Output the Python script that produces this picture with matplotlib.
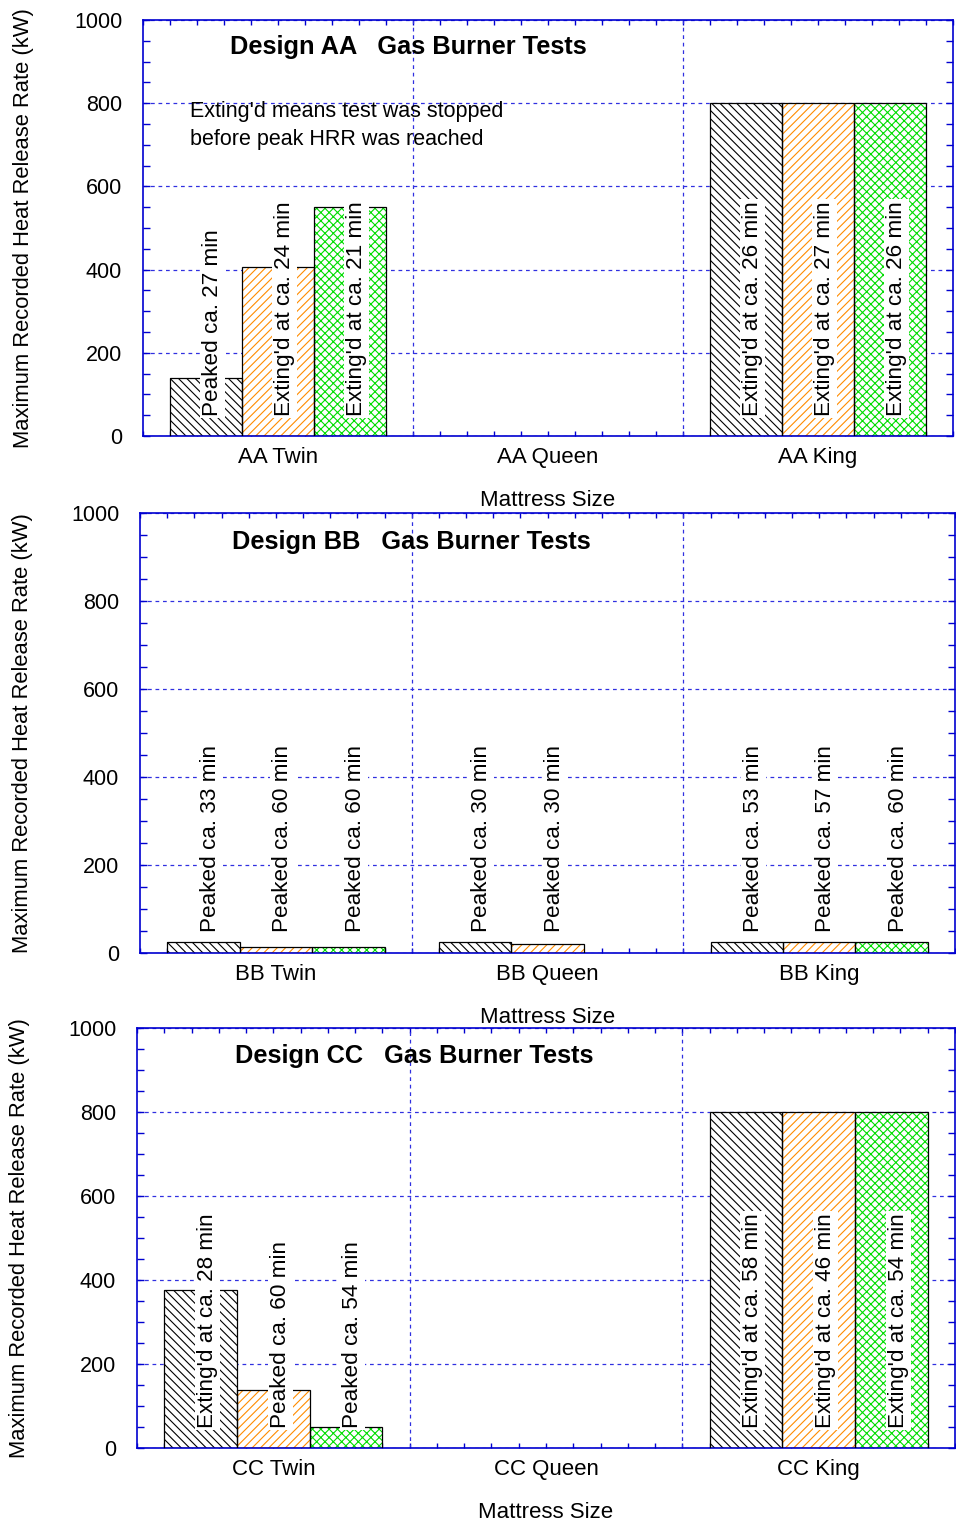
import numpy as np
import matplotlib
matplotlib.use("Agg")
import matplotlib.pyplot as plt
from matplotlib.ticker import MultipleLocator

plt.rcParams['font.family'] = ['Liberation Sans', 'DejaVu Sans']
plt.rcParams['hatch.linewidth'] = 0.8

# mattress sizes (x categories)
sizes = ["Twin", "Queen", "King"]

# design AA, max HRR (kW) of the three tests per size
aa_test1 = [140, np.nan, 800]
aa_test2 = [407, np.nan, 800]
aa_test3 = [550, np.nan, 800]
aa_notes1 = ["Peaked ca. 27 min", "", "Exting'd at ca. 26 min"]
aa_notes2 = ["Exting'd at ca. 24 min", "", "Exting'd at ca. 27 min"]
aa_notes3 = ["Exting'd at ca. 21 min", "", "Exting'd at ca. 26 min"]

# design BB
bb_test1 = [25, 25, 25]
bb_test2 = [14, 20, 25]
bb_test3 = [14, np.nan, 25]
bb_notes1 = ["Peaked ca. 33 min", "Peaked ca. 30 min", "Peaked ca. 53 min"]
bb_notes2 = ["Peaked ca. 60 min", "Peaked ca. 30 min", "Peaked ca. 57 min"]
bb_notes3 = ["Peaked ca. 60 min", "", "Peaked ca. 60 min"]

# design CC
cc_test1 = [377, np.nan, 800]
cc_test2 = [139, np.nan, 800]
cc_test3 = [50, np.nan, 800]
cc_notes1 = ["Exting'd at ca. 28 min", "", "Exting'd at ca. 58 min"]
cc_notes2 = ["Peaked ca. 60 min", "", "Exting'd at ca. 46 min"]
cc_notes3 = ["Peaked ca. 54 min", "", "Exting'd at ca. 54 min"]

panels = [
    ("AA", [aa_test1, aa_test2, aa_test3], [aa_notes1, aa_notes2, aa_notes3]),
    ("BB", [bb_test1, bb_test2, bb_test3], [bb_notes1, bb_notes2, bb_notes3]),
    ("CC", [cc_test1, cc_test2, cc_test3], [cc_notes1, cc_notes2, cc_notes3]),
]

# axes rectangles in pixels: left, top, right, bottom
W, H = 956, 1522
boxes = [(143, 20, 953, 436), (140, 513, 955, 953), (137, 1028, 955, 1448)]
title_x = [408, 411, 414]
ylabel_x = [34, 33, 30]

hatch_colors = ["black", "#ff8c00", "#00dd00"]
hatches = ["\\\\\\\\", "////", "xxxx"]
blue = "#0000d0"
gridblue = "#3030e0"

fig = plt.figure(figsize=(W / 100, H / 100), dpi=100)

for (design, series, notes), (l, t, r, b), tx, yx in zip(panels, boxes, title_x, ylabel_x):
    ax = fig.add_axes([l / W, 1 - b / H, (r - l) / W, (b - t) / H])
    x = np.arange(len(sizes))
    w = 0.8 / 3
    for i, (vals, labs) in enumerate(zip(series, notes)):
        xi = x + (i - 1) * w
        ax.bar(xi, vals, w, color="white", edgecolor=hatch_colors[i],
               hatch=hatches[i], linewidth=0, zorder=2)
        ax.bar(xi, vals, w, fill=False, edgecolor="black", linewidth=0.9, zorder=3)
        for xx, lab in zip(xi, labs):
            if lab:
                ax.text(xx + 0.025, 48, lab, rotation=90, ha="center", va="bottom",
                        fontsize=16.2, zorder=4,
                        bbox=dict(facecolor="white", edgecolor="none", pad=1.5))

    ax.set_xlim(-0.5, 2.5)
    ax.set_ylim(0, 1000)
    ax.set_xticks(x)
    ax.set_xticklabels([design + " " + s for s in sizes], fontsize=16)
    ax.xaxis.set_minor_locator(MultipleLocator(0.1))
    ax.yaxis.set_major_locator(MultipleLocator(200))
    ax.yaxis.set_minor_locator(MultipleLocator(50))
    ax.tick_params(axis="both", which="both", direction="in", top=True, right=True,
                   color=blue, width=1)
    ax.tick_params(axis="x", which="both", length=3.5, pad=8)
    ax.tick_params(axis="y", which="both", length=5, pad=15, labelsize=15.5)

    for sp in ax.spines.values():
        sp.set_color(blue)
        sp.set_linewidth(1.2)

    ax.set_axisbelow(True)
    ax.yaxis.grid(True, color=gridblue, linewidth=0.9, linestyle=(0, (3, 3)))
    for sep in x[:-1] + 0.5:
        ax.axvline(sep, color=gridblue, linewidth=0.9, linestyle=(0, (3, 3)), zorder=1)

    ax.set_xlabel("Mattress Size", fontsize=16, labelpad=16)
    ax.set_ylabel("Maximum Recorded Heat Release Rate (kW)", fontsize=15.8)
    ax.yaxis.set_label_coords((yx - l) / (r - l), 0.5)

    ax.text((tx - l) / (r - l), 0.934, "Design " + design + "   Gas Burner Tests",
            transform=ax.transAxes, ha="center", va="center",
            fontsize=18.3, fontweight="bold")

    if design == "AA":
        ax.text(0.058, 0.805, "Exting'd means test was stopped\nbefore peak HRR was reached",
                transform=ax.transAxes, ha="left", va="top", fontsize=15.5,
                linespacing=1.4)

fig.savefig("out.png", dpi=100)
